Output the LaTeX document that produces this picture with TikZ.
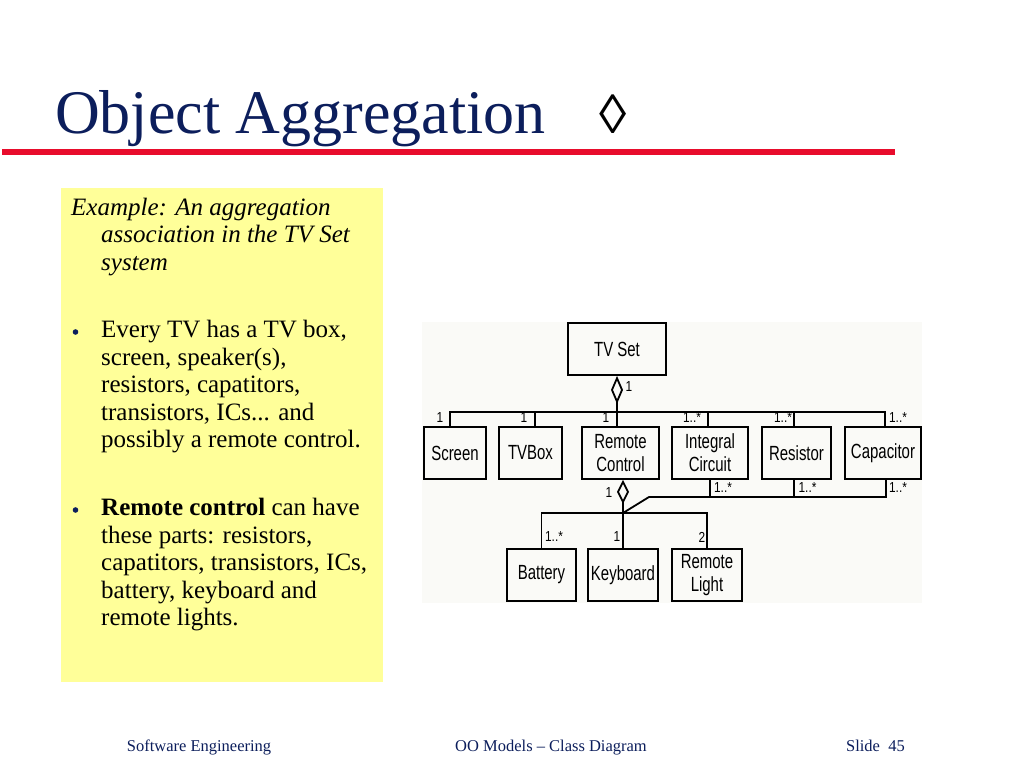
\documentclass[tikz,border=0pt]{standalone}
\usepackage{fontspec}
\setmainfont{Liberation Serif}
\newfontfamily\umlfont[FakeStretch=0.73]{Liberation Sans}
\newfontfamily\multfont[FakeStretch=0.82]{Liberation Sans}
\usetikzlibrary{arrows.meta}
\definecolor{titleblue}{RGB}{12,30,92}
\definecolor{rulered}{RGB}{232,12,44}
\definecolor{noteyellow}{RGB}{255,255,153}
\definecolor{imgback}{RGB}{250,250,247}
\tikzset{
  cls/.style={draw, line width=1.8pt, inner sep=0pt, minimum height=52pt, align=center,
    font=\umlfont\fontsize{20.5}{23}\selectfont},
  link/.style={line width=1.8pt},
  mult/.style={inner sep=0pt, font=\multfont\fontsize{14.5}{16}\selectfont},
  aggr/.style={-{Diamond[open, length=#1, width=12pt]}},
  para/.style={anchor=north west, inner sep=0pt, align=left},
  foot/.style={inner sep=0pt, anchor=base, text=titleblue, font=\fontsize{16.5}{18}\selectfont}
}
\begin{document}
\begin{tikzpicture}[x=1pt, y=-1pt]
\fill[white] (0,0) rectangle (1024,768);
\useasboundingbox (0,0) rectangle (1024,768);

% title
\node[anchor=base west, inner sep=0pt, text=titleblue, font=\fontsize{62}{70}\selectfont] (title) at (55,133) {Object Aggregation};
\node[anchor=base west, inner sep=0pt, font=\fontsize{55}{60}\selectfont] (lozenge) at (599,133) {◊};
\draw[rulered, line width=5.5pt] (2,152) -- (895,152);

% note
\fill[noteyellow] (61,188) rectangle (383,682);
\node[para, font=\fontsize{25}{27.5}\selectfont\itshape] (example) at (71,197.5)
  {Example: An aggregation\\\hspace*{30pt}association in the TV Set\\\hspace*{30pt}system};
\fill[titleblue] (75.5,332) circle (2.8);
\node[para, font=\fontsize{25}{27.5}\selectfont] (every) at (101,320)
  {Every TV has a TV box,\\screen, speaker(s),\\resistors, capatitors,\\transistors, ICs... and\\possibly a remote control.};
\fill[titleblue] (75.5,510) circle (2.8);
\node[para, font=\fontsize{25}{27.5}\selectfont] (parts) at (101,498)
  {\textbf{Remote control} can have\\these parts: resistors,\\capatitors, transistors, ICs,\\battery, keyboard and\\remote lights.};

% class diagram
\fill[imgback] (422,322) rectangle (922,603);
\node[cls, minimum width=98pt] (tvset) at (617,349) {TV Set};
\node[cls, minimum width=62pt] (screen) at (455,453) {Screen};
\node[cls, minimum width=63pt] (tvbox) at (530.5,453) {TVBox};
\node[cls, minimum width=77pt] (remote) at (620.5,453) {Remote\\Control};
\node[cls, minimum width=76pt] (ic) at (710,453) {Integral\\Circuit};
\node[cls, minimum width=69pt] (resistor) at (796.5,453) {Resistor};
\node[cls, minimum width=76pt] (capacitor) at (883,453) {Capacitor};
\node[cls, minimum width=69pt] (battery) at (541.5,575) {Battery};
\node[cls, minimum width=70pt] (keyboard) at (623,575) {Keyboard};
\node[cls, minimum width=70pt] (rlight) at (707,575) {Remote\\Light};

\coordinate (topbus) at (617,412);
\coordinate (rcjoin) at (623,513);
\coordinate (rcbend) at (649,497);

\draw[link] ([xshift=-5pt]screen.north) |- (topbus) -| ([xshift=2pt]capacitor.north);
\foreach \part/\dx in {tvbox/4.5, remote/-3.5, ic/-2, resistor/-2.5}
  \draw[link] ([xshift=\dx pt]\part.north) -- ++(0,-15);
\draw[link, aggr=28pt] (topbus) -- (tvset.south);

\draw[link, aggr=24pt] (rcjoin) -- (remote.south -| rcjoin);
\draw[link] (battery.north) |- (rcjoin) -| (rlight.north);
\draw[link] (rcjoin) -- (keyboard.north);
\draw[link] (rcjoin) -- (rcbend) -| ([xshift=3pt]capacitor.south);
\foreach \part/\dx in {ic/0, resistor/-2.5}
  \draw[link] ([xshift=\dx pt]\part.south) -- ++(0,18);

% multiplicities
\node[mult] (m1) at (629,387) {1};
\node[mult] (m2) at (440,418) {1};
\node[mult] (m3) at (524,418) {1};
\node[mult] (m4) at (606,418) {1};
\node[mult] (m5) at (692,418) {1..*};
\node[mult] (m6) at (783,418) {1..*};
\node[mult] (m7) at (898,418) {1..*};
\node[mult] (m8) at (609,493) {1};
\node[mult] (m9) at (723,488) {1..*};
\node[mult] (m10) at (807.5,488) {1..*};
\node[mult] (m11) at (898,488) {1..*};
\node[mult] (m12) at (554,537) {1..*};
\node[mult] (m13) at (617,537) {1};
\node[mult] (m14) at (702,537) {2};

% footer
\node[foot] (fleft) at (199,751) {Software Engineering};
\node[foot] (fmid) at (551,751) {OO Models -- Class Diagram};
\node[foot, anchor=base east] (fright) at (905,751) {Slide\ \ 45};
\end{tikzpicture}
\end{document}
